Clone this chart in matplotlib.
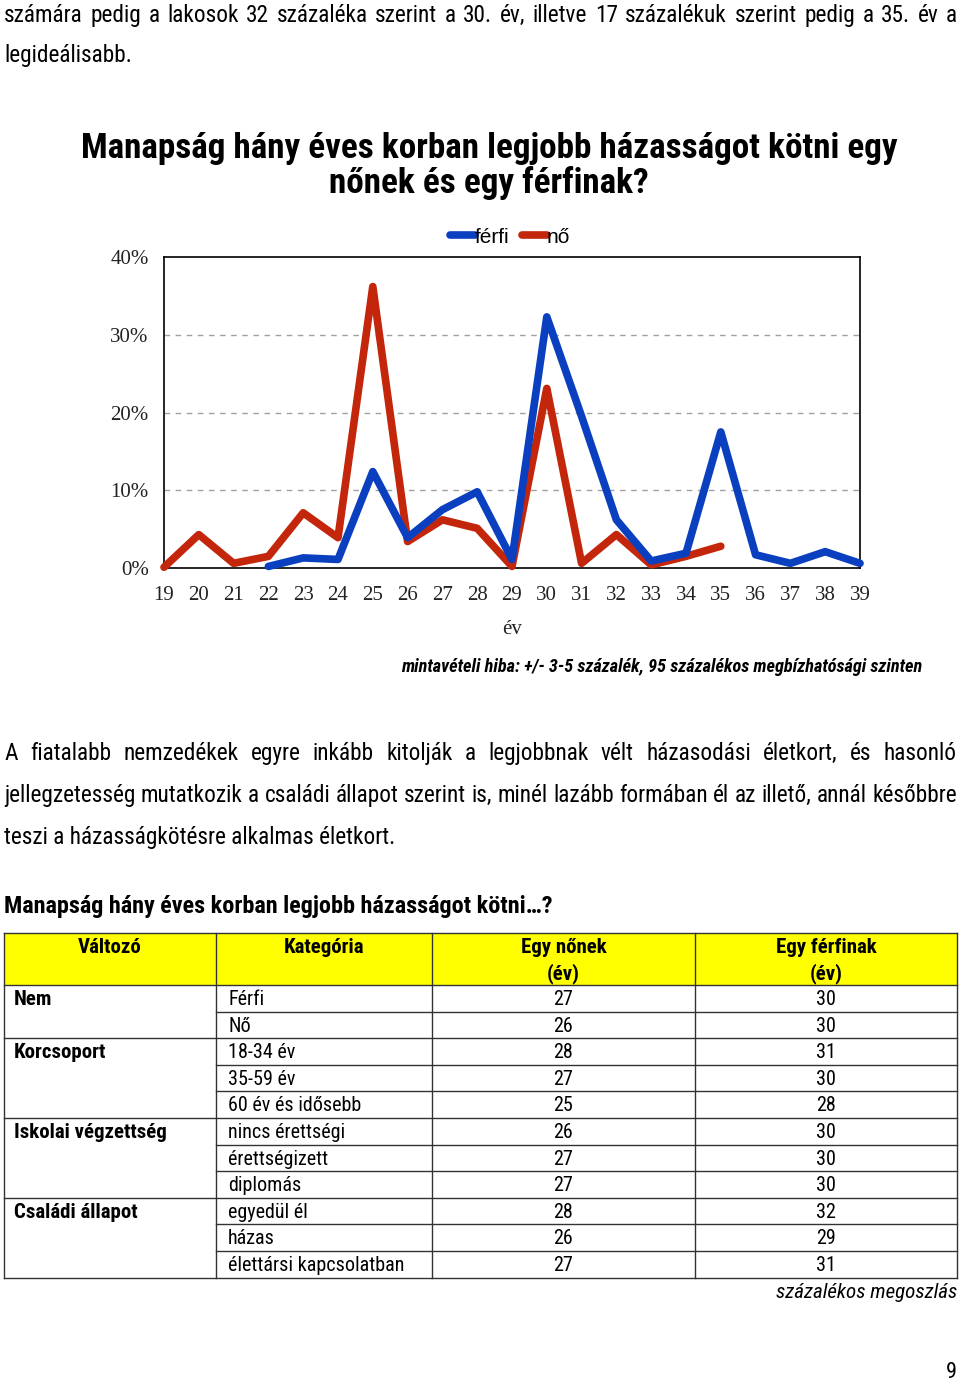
import matplotlib
matplotlib.use("Agg")
import matplotlib.pyplot as plt
from matplotlib import font_manager as fm
from matplotlib.lines import Line2D
from matplotlib.patches import Rectangle
from matplotlib.ticker import PercentFormatter

# ---------------- data ----------------
years = list(range(19, 40))
ferfi_years = list(range(22, 40))
ferfi_pct = [0.2, 1.3, 1.1, 12.4, 3.9, 7.5, 9.8, 1.1, 32.3, 19.5, 6.2, 0.9, 1.9, 17.5, 1.7, 0.6, 2.1, 0.6]
no_years = list(range(19, 36))
no_pct = [0.1, 4.3, 0.6, 1.5, 7.1, 3.9, 36.2, 3.4, 6.2, 5.1, 0.2, 23.1, 0.6, 4.3, 0.4, 1.5, 2.8]
y_ticks = [0, 10, 20, 30, 40]

table_header = ["Változó", "Kategória", "Egy nőnek\n(év)", "Egy férfinak\n(év)"]
groups = ["Nem", "Korcsoport", "Iskolai végzettség", "Családi állapot"]
group_sizes = [2, 3, 3, 3]
categories = ["Férfi", "Nő", "18-34 év", "35-59 év", "60 év és idősebb", "nincs érettségi",
              "érettségizett", "diplomás", "egyedül él", "házas", "élettársi kapcsolatban"]
age_women = [27, 26, 28, 27, 25, 26, 27, 27, 28, 26, 27]
age_men = [30, 30, 31, 30, 28, 30, 30, 30, 32, 29, 31]

# ---------------- fonts ----------------
SERIF = "Liberation Serif"
SANS = "Liberation Sans"


def find_narrow():
    files = [f.fname for f in fm.fontManager.ttflist]
    pats = ["LiberationSansNarrow", "RobotoCondensed", "Roboto-Condensed", "DejaVuSansCondensed",
            "OpenSans_Condensed", "OpenSansCondensed", "OpenSans-Condensed"]
    for p in pats:
        sel = [f for f in files if p.lower() in f.replace(" ", "").lower()]
        if not sel:
            continue

        def pick(bold, ital):
            for f in sel:
                b = f.rsplit("/", 1)[-1].lower()
                isb = "bold" in b
                isi = ("italic" in b) or ("oblique" in b)
                if any(k in b for k in ("light", "thin", "medium", "black", "semi", "extra")):
                    continue
                if isb == bold and isi == ital:
                    return f
            return None
        reg = pick(False, False)
        if reg is None:
            continue
        d = {}
        for key, (b, i) in {"r": (False, False), "b": (True, False), "i": (False, True), "bi": (True, True)}.items():
            f = pick(b, i)
            d[key] = fm.FontProperties(fname=f if f else reg)
        return d
    return {"r": fm.FontProperties(family=SANS), "b": fm.FontProperties(family=SANS, weight="bold"),
            "i": fm.FontProperties(family=SANS, style="italic"),
            "bi": fm.FontProperties(family=SANS, weight="bold", style="italic")}


FP = find_narrow()

W, H = 960, 1384
fig = plt.figure(figsize=(W / 100, H / 100), dpi=100)
fig.patch.set_facecolor("white")
R = fig.canvas.get_renderer()


def fx(x):
    return x / W


def fy(y):
    return 1 - y / H


def txt(x, y, s, style="r", size=15, **kw):
    kw.setdefault("va", "baseline")
    kw.setdefault("color", "black")
    fp = FP[style].copy()
    fp.set_size(size)
    return fig.text(fx(x), fy(y), s, fontproperties=fp, **kw)


def fit(t, width):
    w = t.get_window_extent(R).width
    t.set_fontsize(t.get_fontsize() * width / w)
    return t.get_fontsize()


def justify(s, y, x0, x1, **kw):
    words = s.split()
    ts = [txt(0, y, w, ha="left", **kw) for w in words]
    widths = [t.get_window_extent(R).width for t in ts]
    gap = (x1 - x0 - sum(widths)) / (len(words) - 1)
    x = x0
    for t, w in zip(ts, widths):
        t.set_x(fx(x))
        x += w + gap


# body font size: the densest justified line fills the text width with normal spacing
P2 = "jellegzetesség mutatkozik a családi állapot szerint is, minél lazább formában él az illető, annál későbbre"
probe = txt(4, 0, P2, size=15)
BODY = min(fit(probe, 953), 17.5)
probe.remove()

# ---------------- top text ----------------
justify("számára pedig a lakosok 32 százaléka szerint a 30. év, illetve 17 százalékuk szerint pedig a 35. év a",
        22, 4, 957, size=BODY)
txt(4, 62, "legideálisabb.", size=BODY)

t1 = txt(489, 158, "Manapság hány éves korban legjobb házasságot kötni egy", ha="center",
         style="b", size=24)
fit(t1, 820)
txt(489, 193, "nőnek és egy férfinak?", ha="center", style="b", size=t1.get_fontsize())

# ---------------- chart ----------------
ax = fig.add_axes([fx(164), fy(568), (860 - 164) / W, (568 - 257) / H])
ax.plot(no_years, no_pct, color="#c4260c", lw=5.5, solid_capstyle="round",
        solid_joinstyle="round", clip_on=False, label="nő", zorder=3)
ax.plot(ferfi_years, ferfi_pct, color="#0a40c0", lw=5.5, solid_capstyle="round",
        solid_joinstyle="round", clip_on=False, label="férfi", zorder=4)
ax.set_xlim(19, 39)
ax.set_ylim(0, 40)
ax.set_xticks(years)
ax.set_yticks(y_ticks)
ax.yaxis.set_major_formatter(PercentFormatter(decimals=0))
for yv in y_ticks[1:-1]:
    ax.axhline(yv, color="#a0a0a0", lw=1.0, dashes=(4, 4), zorder=1)
for sp in ax.spines.values():
    sp.set_color("black")
    sp.set_linewidth(1.2)
ax.tick_params(length=0, labelsize=15, labelcolor="#222222")
ax.tick_params(axis="y", pad=11)
ax.tick_params(axis="x", pad=13)
for lab in ax.get_xticklabels() + ax.get_yticklabels():
    lab.set_family(SERIF)
ax.set_xlabel("év", family=SERIF, fontsize=15, color="#222222", labelpad=11)
h, l = ax.get_legend_handles_labels()
leg = ax.legend(h[::-1], l[::-1], loc="lower center", bbox_to_anchor=(0.497, 1.0), ncol=2,
                frameon=False, handlelength=1.2, handletextpad=0.0, columnspacing=0.6,
                prop={"family": SANS, "size": 15}, borderaxespad=0.1)

tm = txt(922, 672, "mintavételi hiba: +/- 3-5 százalék, 95 százalékos megbízhatósági szinten",
         ha="right", style="bi", size=12.5)
fit(tm, 524)

# ---------------- paragraph ----------------
justify("A fiatalabb nemzedékek egyre inkább kitolják a legjobbnak vélt házasodási életkort, és hasonló",
        760, 4, 957, size=BODY)
justify(P2, 802, 4, 957, size=BODY)
txt(4, 844, "teszi a házasságkötésre alkalmas életkort.", size=BODY)

ts = txt(4, 913, "Manapság hány éves korban legjobb házasságot kötni…?", style="b", size=16)
fit(ts, 546)

# ---------------- table ----------------
cols = [4, 216, 432, 695, 957]
top, hbot = 933, 985
rh = 26.6
n = len(categories)
bottom = hbot + n * rh

fig.patches.append(Rectangle((fx(cols[0]), fy(hbot)), fx(cols[-1] - cols[0]), (hbot - top) / H,
                             transform=fig.transFigure, facecolor="#ffff00", edgecolor="none", zorder=0))


def hline(y, x0, x1, lw=1.0):
    fig.lines.append(Line2D([fx(x0), fx(x1)], [fy(y), fy(y)], transform=fig.transFigure,
                            color="#333333", lw=lw))


def vline(x, y0, y1, lw=1.0):
    fig.lines.append(Line2D([fx(x), fx(x)], [fy(y0), fy(y1)], transform=fig.transFigure,
                            color="#333333", lw=lw))


for c in cols:
    vline(c, top, bottom)
hline(top, cols[0], cols[-1])
hline(hbot, cols[0], cols[-1])
hline(bottom, cols[0], cols[-1])
boundaries = set()
acc = 0
for g in group_sizes[:-1]:
    acc += g
    boundaries.add(acc)
for i in range(1, n):
    y = hbot + i * rh
    if i in boundaries:
        hline(y, cols[0], cols[-1])
    else:
        hline(y, cols[1], cols[-1])

TS = 14.5
for j, htxt in enumerate(table_header):
    xc = (cols[j] + cols[j + 1]) / 2
    for k, part in enumerate(htxt.split("\n")):
        txt(xc, 953 + k * 26, part, ha="center", style="b", size=15)

row = 0
for g, sz in zip(groups, group_sizes):
    txt(14, hbot + row * rh + 20, g, style="b", size=15)
    row += sz
for i, (cat, w, m) in enumerate(zip(categories, age_women, age_men)):
    yb = hbot + i * rh + 20
    txt(228, yb, cat, size=TS)
    txt((cols[2] + cols[3]) / 2, yb, str(w), ha="center", size=TS)
    txt((cols[3] + cols[4]) / 2, yb, str(m), ha="center", size=TS)

tp = txt(957, 1298, "százalékos megoszlás", ha="right", style="i", size=TS)
fit(tp, 182)
txt(957, 1373, "9", ha="right", va="center", size=16)

fig.savefig("out.png", dpi=100)
